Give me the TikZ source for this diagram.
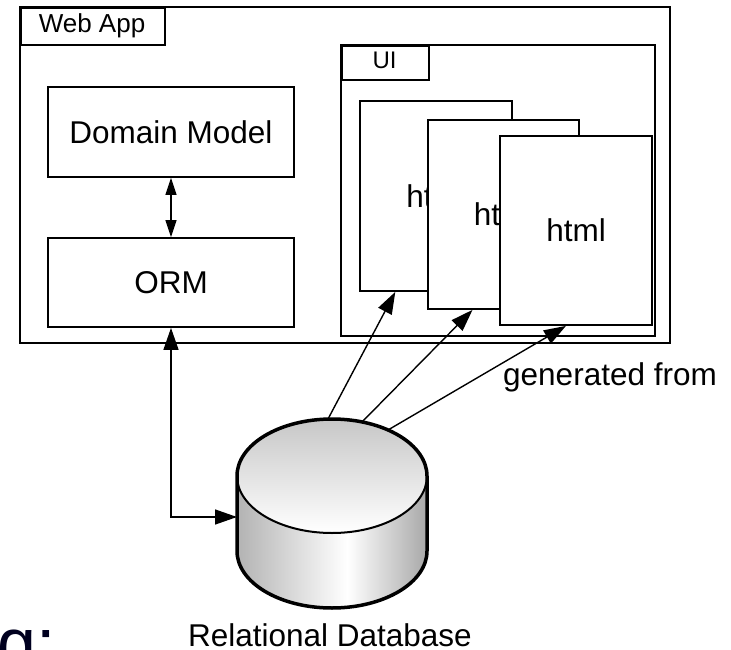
\documentclass[tikz,border=0pt]{standalone}
\usepackage{fontspec}
\setmainfont{Liberation Sans}
\usetikzlibrary{arrows.meta}
% side shading of the database body: darker at the rims, light slightly right of centre
\pgfdeclarehorizontalshading{cylbody}{100bp}{color(0bp)=(black!30); color(25bp)=(black!30); color(54bp)=(white); color(75bp)=(black!34); color(100bp)=(black!34)}
\begin{document}
\begin{tikzpicture}[x=1pt,y=-1pt,
  box/.style={draw, line width=1.8pt, fill=white, inner sep=0pt},
  lbl/.style={font=\fontsize{31.5}{36}\selectfont},
  tablbl/.style={font=\fontsize{26}{30}\selectfont, inner sep=0pt},
  bigtip/.style={line width=1.4pt},
  conn/.style={bigtip, -{Triangle[length=22pt,width=15pt]}},
  both/.style={bigtip, {Triangle[length=22pt,width=15pt]}-{Triangle[length=22pt,width=15pt]}},
  smallboth/.style={line width=1.3pt, {Triangle[length=17pt,width=11pt]}-{Triangle[length=17pt,width=11pt]}}]
\useasboundingbox (0,0) rectangle (731,650);
\clip (0,0) rectangle (731,650);

% remnant of a heading, cut off at the lower edge
\node[anchor=base west, inner sep=0pt, text=black!80!blue!60!black, font=\fontsize{70}{80}\selectfont] (rest) at (-3,667) {g:};

% Web App container and its tab
\node[box, minimum width=650pt, minimum height=336pt] (webapp) at (345,175) {};
\node[box, minimum width=144pt, minimum height=37pt, anchor=north west] (webtab) at (20,7) {};
\node[tablbl, anchor=base] (webtxt) at (92,33) {Web App};

% domain side
\node[box, lbl, minimum width=246pt, minimum height=90pt] (dm) at (171,132) {Domain Model};
\node[box, lbl, minimum width=246pt, minimum height=89pt] (orm) at (171,282.5) {ORM};
\draw[smallboth] (dm.south) -- (orm.north);

% UI container with stacked pages
\node[box, minimum width=314pt, minimum height=291pt] (ui) at (498,190.5) {};
\node[box, minimum width=87pt, minimum height=34pt, anchor=north west] (uitab) at (341,45) {};
\node[tablbl, font=\fontsize{24}{28}\selectfont, anchor=base] (uitxt) at (384.5,69) {UI};
\node[box, lbl, minimum width=152pt, minimum height=190pt] (h1) at (436,196) {html};
\node[box, lbl, minimum width=151pt, minimum height=189pt] (h2) at (503.5,214.5) {html};
\node[box, lbl, minimum width=152pt, minimum height=189pt] (h3) at (576,230.5) {html};

% relational database cylinder
\node[minimum width=190pt, minimum height=189pt, inner sep=0pt] (db) at (332,513.5) {};
\fill[shading=cylbody] (237,476) -- (237,551) arc[start angle=180, end angle=0, x radius=95, y radius=57]
  -- (427,476) arc[start angle=0, end angle=-180, x radius=95, y radius=57] -- cycle;
\fill[top color=black!22, bottom color=white] (332,476) ellipse[x radius=95, y radius=57];
\draw[line width=2pt] (237,476) arc[start angle=180, end angle=0, x radius=95, y radius=57];
\draw[line width=3.5pt] (237,476) -- (237,551) arc[start angle=180, end angle=0, x radius=95, y radius=57]
  -- (427,476) arc[start angle=0, end angle=-180, x radius=95, y radius=57] -- cycle;
\node[lbl, anchor=base, inner sep=0pt, text depth=0pt] (dbtxt) at (330,646) {Relational Database};

% points on the rim where the connectors leave the database
\coordinate (dbin) at (237,517);
\coordinate (s1) at (328,419);
\coordinate (s2) at (362,422);
\coordinate (s3) at (388,430);

% connectors
\draw[both] (orm.south) |- (dbin);
\draw[conn] (s1) -- (h1.247.7);
\draw[conn] (s2) -- (h2.252.3);
\draw[conn] (s3) -- (h3.264.6);
\node[lbl, anchor=base west, inner sep=0pt] (gen) at (503,385) {generated from};
\end{tikzpicture}
\end{document}
